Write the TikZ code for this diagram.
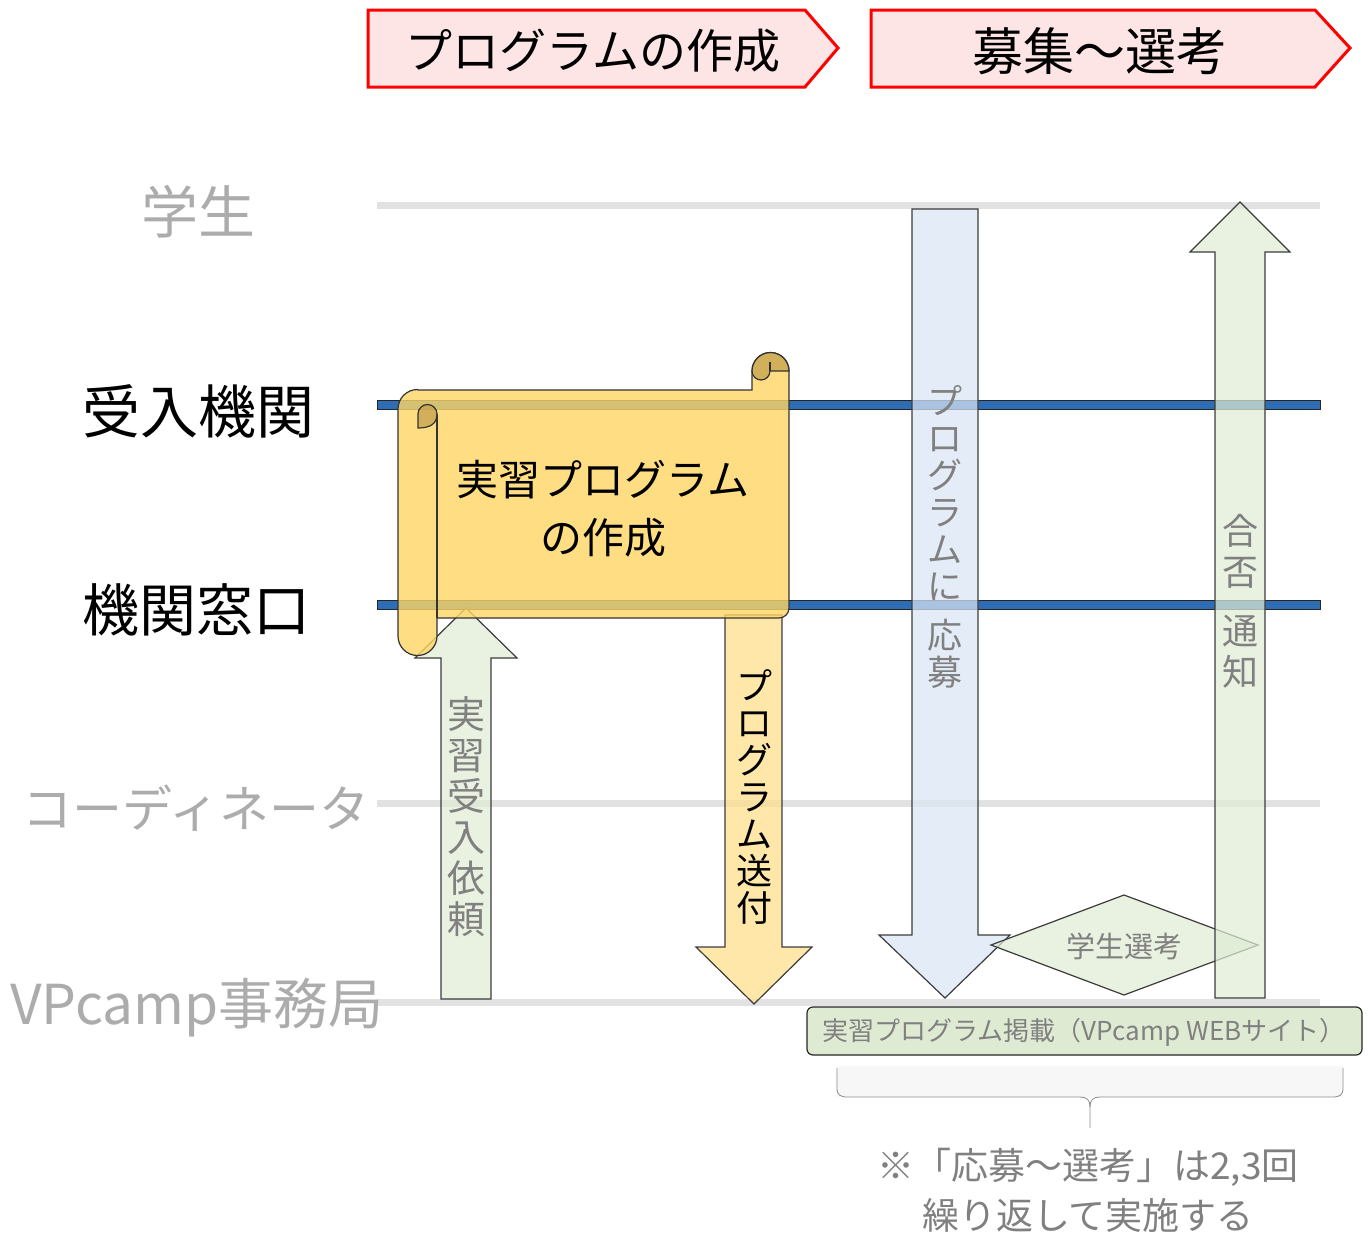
\documentclass[tikz,border=0pt]{standalone}
\usepackage{fontspec}
\setmainfont{Noto Sans CJK JP}
\newcommand\fsz[2]{\fontsize{#1}{#2}\selectfont}
\definecolor{hdrfill}{RGB}{253,228,229}
\definecolor{hdrline}{RGB}{255,0,0}
\definecolor{lanegray}{RGB}{226,226,226}
\definecolor{lblgray}{RGB}{172,172,172}
\definecolor{txtgray}{RGB}{128,128,128}
\definecolor{lanblue}{RGB}{46,109,180}
\definecolor{scrollfill}{RGB}{255,214,100}
\definecolor{scrolldark}{RGB}{196,160,76}
\definecolor{greenfill}{RGB}{224,235,212}
\definecolor{bluefill}{RGB}{218,229,244}
\definecolor{yelfill}{RGB}{255,222,136}
\definecolor{boxfill}{RGB}{223,234,211}
\definecolor{outl}{RGB}{60,60,60}
\begin{document}
\begin{tikzpicture}[x=1pt,y=-1pt,
  hdr/.style={draw=hdrline,line width=3pt,fill=hdrfill,line join=miter},
  grayline/.style={draw=none,fill=lanegray},
  blueline/.style={draw=black!85,line width=0.8pt,fill=lanblue},
  blockarrow/.style={draw=outl,line width=1.2pt,line join=miter,fill opacity=0.72},
  scrollbody/.style={draw=black!80,line width=1.2pt,fill=scrollfill,fill opacity=0.8},
  scrollcurl/.style={draw=black!80,line width=1.2pt,fill=scrolldark,fill opacity=0.75},
  lbl/.style={inner sep=0pt,align=center},
]
\useasboundingbox (0,0) rectangle (1371,1234);

% phase headers
\draw[hdr] (368,10) -- (805,10) -- (838,48) -- (805,87) -- (368,87) -- cycle;
\draw[hdr] (871,10) -- (1315,10) -- (1350,48) -- (1315,87) -- (871,87) -- cycle;
\node[lbl,font=\fsz{47}{47}] (h1) at (593,51) {プログラムの作成};
\node[lbl,font=\fsz{51}{51}] (h2) at (1100,51) {募集～選考};

% lanes
\fill[grayline] (377,202) rectangle (1320,209);
\draw[blueline] (377,400) rectangle (1320,409);
\draw[blueline] (377,600) rectangle (1320,609);
\fill[grayline] (377,800) rectangle (1320,807);
\fill[grayline] (377,999) rectangle (1320,1006);

% lane labels
\node[lbl,font=\fsz{57}{57},text=lblgray] (l1) at (198,212) {学生};
\node[lbl,font=\fsz{58}{58}] (l2) at (198,411) {受入機関};
\node[lbl,font=\fsz{57}{57}] (l3) at (196,610) {機関窓口};
\node[lbl,font=\fsz{50}{50},text=lblgray] (l4) at (196,808) {コーディネータ};
\node[lbl,font=\fsz{55}{55},text=lblgray] (l5) at (197,1008) {VPcamp事務局};

% block arrows
\draw[blockarrow,fill=greenfill] (441,999) -- (441,658) -- (415,658) -- (466,608) -- (517,658) -- (491,658) -- (491,999) -- cycle;
\draw[blockarrow,fill=yelfill] (725,615) -- (782,615) -- (782,947) -- (812,947) -- (754,1004) -- (696,947) -- (725,947) -- cycle;
\draw[blockarrow,fill=bluefill] (912,209) -- (978,209) -- (978,935) -- (1010,935) -- (945,998) -- (879,935) -- (912,935) -- cycle;

% selection diamond
\draw[blockarrow,fill=greenfill] (991,945) -- (1124,895) -- (1258,945) -- (1124,995) -- cycle;
\node[lbl,font=\fsz{29}{29},text=txtgray] (sel) at (1124,946) {学生選考};

\draw[blockarrow,fill=greenfill] (1215,998) -- (1215,252) -- (1190,252) -- (1240,202) -- (1290,252) -- (1265,252) -- (1265,998) -- cycle;

% scroll
\draw[scrollbody] (418,390) -- (752,390) -- (752,371)
  arc[start angle=180,end angle=360,radius=18.5] -- (789,608)
  arc[start angle=0,end angle=90,radius=10] -- (437,618) -- (437,636)
  arc[start angle=0,end angle=180,radius=19.5] -- (398,409)
  arc[start angle=180,end angle=270,radius=19.5] -- cycle;
\draw[black!80,line width=1.2pt] (437,414) -- (437,618);
\draw[scrollcurl] (752,371) arc[start angle=180,end angle=360,radius=18.5] -- (770,371)
  arc[start angle=0,end angle=180,radius=9] -- cycle;
\draw[black!80,line width=1.2pt] (770,362) -- (770,371);
\draw[scrollcurl] (418,428) -- (418,414) arc[start angle=180,end angle=360,radius=9.5]
  .. controls (437,424) and (430,428) .. (418,428) -- cycle;
\node[lbl,font=\fsz{42}{58}] (scr) at (603,509) {実習プログラム\\の作成};

% arrow labels (vertical)
\node[lbl,font=\fsz{38}{41},text=txtgray] (a1) at (466,817) {実\\習\\受\\入\\依\\頼};
\node[lbl,font=\fsz{36}{37}] (a2) at (754,797) {プ\\ロ\\グ\\ラ\\ム\\送\\付};
\node[lbl,font=\fsz{35}{37},text=txtgray] (a3) at (945,537) {プ\\ロ\\グ\\ラ\\ム\\に\\[12pt]応\\募};
\node[lbl,font=\fsz{36}{41},text=txtgray] (a4) at (1240,601) {合\\否\\[18pt]通\\知};

% web box
\draw[draw=black!85,line width=1.2pt,fill=boxfill,rounded corners=6pt] (807,1007) rectangle (1362,1055);
\node[lbl,font=\fsz{26}{26},text=txtgray] (web) at (1084,1032) {実習プログラム掲載（VPcamp WEBサイト）};

% brace
\fill[black!3] (837,1066) rectangle (1343,1097);
\draw[black!45,line width=0.8pt] (837,1068) -- (837,1088) .. controls (837,1095) and (840,1097) .. (848,1097) -- (1080,1097) .. controls (1087,1097) and (1090,1100) .. (1090,1107) -- (1090,1128);
\draw[black!45,line width=0.8pt] (1343,1068) -- (1343,1088) .. controls (1343,1095) and (1340,1097) .. (1332,1097) -- (1100,1097) .. controls (1093,1097) and (1090,1100) .. (1090,1107);
\node[lbl,font=\fsz{37}{50},text=txtgray] (note) at (1088,1190) {※「応募～選考」は2,3回\\繰り返して実施する};
\end{tikzpicture}
\end{document}
